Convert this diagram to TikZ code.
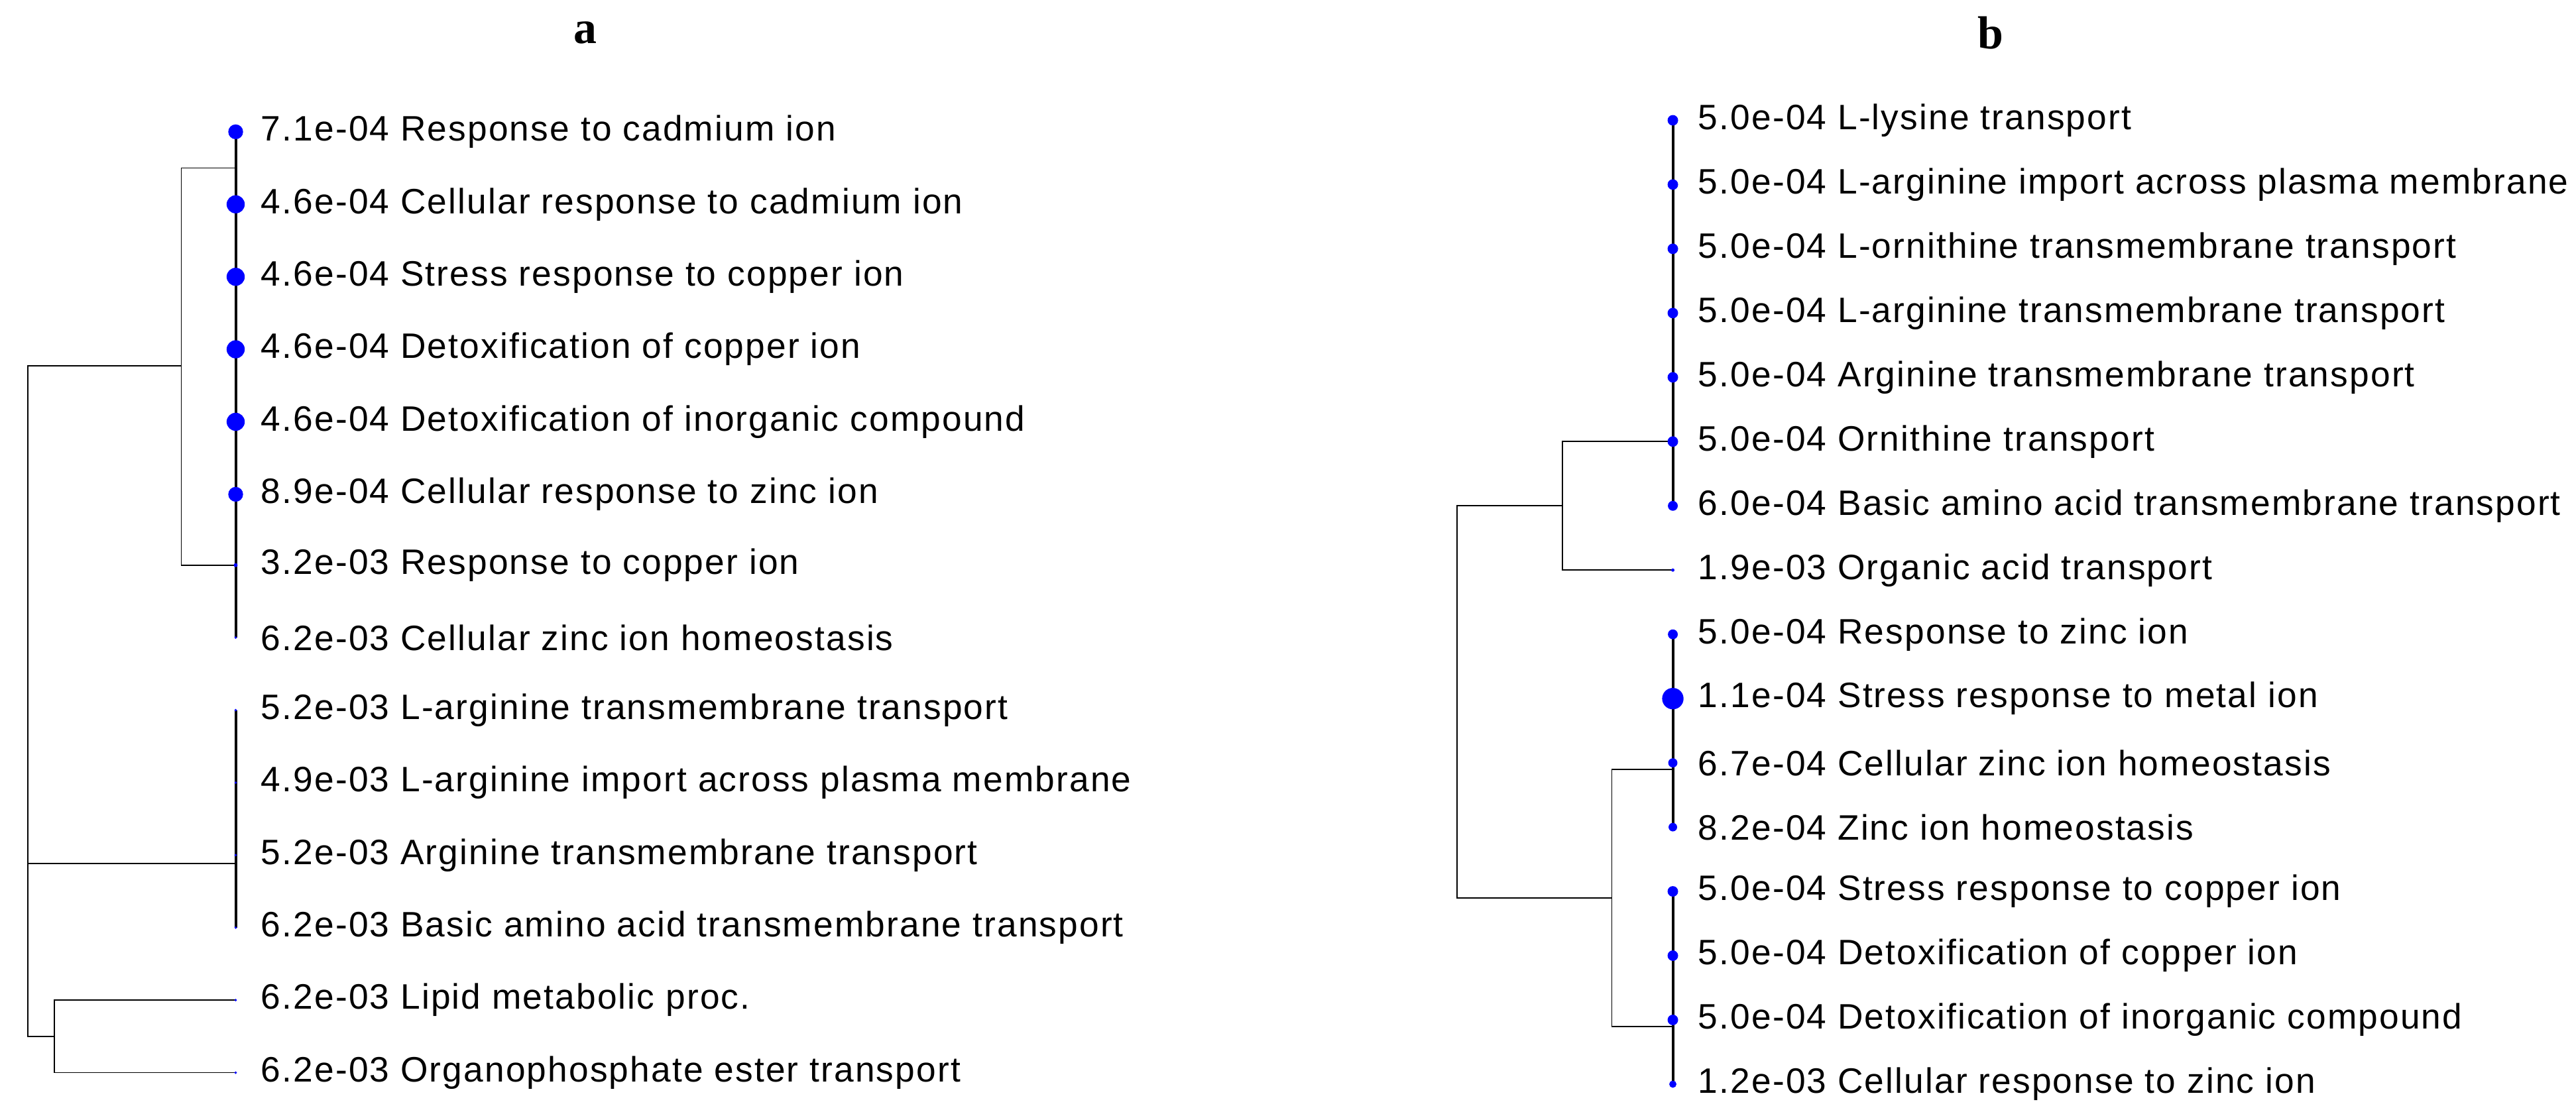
\documentclass[tikz,border=0pt]{standalone}
\usepackage{fontspec}
\setmainfont{Liberation Sans}[LetterSpace=4]
\newfontfamily\titlefont{Liberation Serif}
\usetikzlibrary{positioning}
\pgfdeclarelayer{bg}
\pgfsetlayers{bg,main}

\begin{document}
\begin{tikzpicture}[x=0.02cm, y=-0.02cm, line width=0.5pt,
	dot/.style={circle,fill=blue,inner sep=0pt,minimum size=#1*0.04cm},
	term/.style={anchor=west,inner sep=0pt,font=\fontsize{12.2}{14}\selectfont},
	title/.style={font=\titlefont\bfseries\fontsize{16}{18}\selectfont},
	leaf/.style={line width=0.9pt}]
	\useasboundingbox (0,0) rectangle (1563,677);
	\node[title] (ta) at (355,20) {a};
	\node[title] (tb) at (1208,20) {b};
	% panel a
	\node[dot=4.5] (a1) at (143,80) {};
	\node[dot=5.5] (a2) at (143,124) {};
	\node[dot=5.5] (a3) at (143,168) {};
	\node[dot=5.5] (a4) at (143,212) {};
	\node[dot=5.5] (a5) at (143,256) {};
	\node[dot=4.5] (a6) at (143,300) {};
	\node[dot=1.2] (a7) at (143,343) {};
	\node[dot=0.8] (a8) at (143,387) {};
	\node[dot=0.8] (a9) at (143,431) {};
	\node[dot=0.8] (a10) at (143,475) {};
	\node[dot=0.8] (a11) at (143,519) {};
	\node[dot=0.8] (a12) at (143,563) {};
	\node[dot=0.8] (a13) at (143,607) {};
	\node[dot=0.8] (a14) at (143,651) {};
	\node[term] (la1) at (158,80) {7.1e-04 Response to cadmium ion};
	\node[term] (la2) at (158,124) {4.6e-04 Cellular response to cadmium ion};
	\node[term] (la3) at (158,168) {4.6e-04 Stress response to copper ion};
	\node[term] (la4) at (158,212) {4.6e-04 Detoxification of copper ion};
	\node[term] (la5) at (158,256) {4.6e-04 Detoxification of inorganic compound};
	\node[term] (la6) at (158,300) {8.9e-04 Cellular response to zinc ion};
	\node[term] (la7) at (158,343) {3.2e-03 Response to copper ion};
	\node[term] (la8) at (158,387) {6.2e-03 Cellular zinc ion homeostasis};
	\node[term] (la9) at (158,431) {5.2e-03 L-arginine transmembrane transport};
	\node[term] (la10) at (158,475) {4.9e-03 L-arginine import across plasma membrane};
	\node[term] (la11) at (158,519) {5.2e-03 Arginine transmembrane transport};
	\node[term] (la12) at (158,563) {6.2e-03 Basic amino acid transmembrane transport};
	\node[term] (la13) at (158,607) {6.2e-03 Lipid metabolic proc.};
	\node[term] (la14) at (158,651) {6.2e-03 Organophosphate ester transport};
	\coordinate (ja1) at (143,102);
	\coordinate (ja2) at (143,524);
	\coordinate (ka1) at (110,102);
	\coordinate (ka2) at (110,343);
	\coordinate (ka3) at (110,222);
	\coordinate (ra1) at (17,222);
	\coordinate (ra2) at (17,524);
	\coordinate (ra3) at (17,629);
	\coordinate (ma1) at (33,607);
	\coordinate (ma2) at (33,651);
	\coordinate (ma3) at (33,629);
	% panel b
	\node[dot=3.2] (b1) at (1015,73) {};
	\node[dot=3.2] (b2) at (1015,112) {};
	\node[dot=3.2] (b3) at (1015,151) {};
	\node[dot=3.2] (b4) at (1015,190) {};
	\node[dot=3.2] (b5) at (1015,229) {};
	\node[dot=3.2] (b6) at (1015,268) {};
	\node[dot=3] (b7) at (1015,307) {};
	\node[dot=1] (b8) at (1015,346) {};
	\node[dot=3] (b9) at (1015,385) {};
	\node[dot=6.5] (b10) at (1015,424) {};
	\node[dot=2.8] (b11) at (1015,463) {};
	\node[dot=2.6] (b12) at (1015,502) {};
	\node[dot=3.2] (b13) at (1015,541) {};
	\node[dot=3.2] (b14) at (1015,580) {};
	\node[dot=3.2] (b15) at (1015,619) {};
	\node[dot=2.2] (b16) at (1015,658) {};
	\node[term] (lb1) at (1030,73) {5.0e-04 L-lysine transport};
	\node[term] (lb2) at (1030,112) {5.0e-04 L-arginine import across plasma membrane};
	\node[term] (lb3) at (1030,151) {5.0e-04 L-ornithine transmembrane transport};
	\node[term] (lb4) at (1030,190) {5.0e-04 L-arginine transmembrane transport};
	\node[term] (lb5) at (1030,229) {5.0e-04 Arginine transmembrane transport};
	\node[term] (lb6) at (1030,268) {5.0e-04 Ornithine transport};
	\node[term] (lb7) at (1030,307) {6.0e-04 Basic amino acid transmembrane transport};
	\node[term] (lb8) at (1030,346) {1.9e-03 Organic acid transport};
	\node[term] (lb9) at (1030,385) {5.0e-04 Response to zinc ion};
	\node[term] (lb10) at (1030,424) {1.1e-04 Stress response to metal ion};
	\node[term] (lb11) at (1030,463) {6.7e-04 Cellular zinc ion homeostasis};
	\node[term] (lb12) at (1030,502) {8.2e-04 Zinc ion homeostasis};
	\node[term] (lb13) at (1030,541) {5.0e-04 Stress response to copper ion};
	\node[term] (lb14) at (1030,580) {5.0e-04 Detoxification of copper ion};
	\node[term] (lb15) at (1030,619) {5.0e-04 Detoxification of inorganic compound};
	\node[term] (lb16) at (1030,658) {1.2e-03 Cellular response to zinc ion};
	\coordinate (jb1) at (1015,467);
	\coordinate (jb2) at (1015,623);
	\coordinate (kb1) at (948,268);
	\coordinate (kb2) at (948,346);
	\coordinate (kb3) at (948,307);
	\coordinate (mb1) at (978,467);
	\coordinate (mb2) at (978,623);
	\coordinate (mb3) at (978,545);
	\coordinate (rb1) at (884,307);
	\coordinate (rb2) at (884,545);
	% branches behind the dots
	\begin{pgfonlayer}{bg}
	\draw[leaf] (a1.center) -- (a8.center);
	\draw[leaf] (a9.center) -- (a12.center);
	\draw (ja1) -- (ka1) -- (ka2) -- (a7.center);
	\draw (ka3) -- (ra1) -- (ra3) -- (ma3);
	\draw (ra2) -- (ja2);
	\draw (a13.center) -- (ma1) -- (ma2) -- (a14.center);
	\draw[leaf] (b1.center) -- (b7.center);
	\draw[leaf] (b9.center) -- (b12.center);
	\draw[leaf] (b13.center) -- (b16.center);
	\draw (b6.center) -- (kb1) -- (kb2) -- (b8.center);
	\draw (jb1) -- (mb1) -- (mb2) -- (jb2);
	\draw (kb3) -- (rb1) -- (rb2) -- (mb3);
	\end{pgfonlayer}
\end{tikzpicture}
\end{document}
